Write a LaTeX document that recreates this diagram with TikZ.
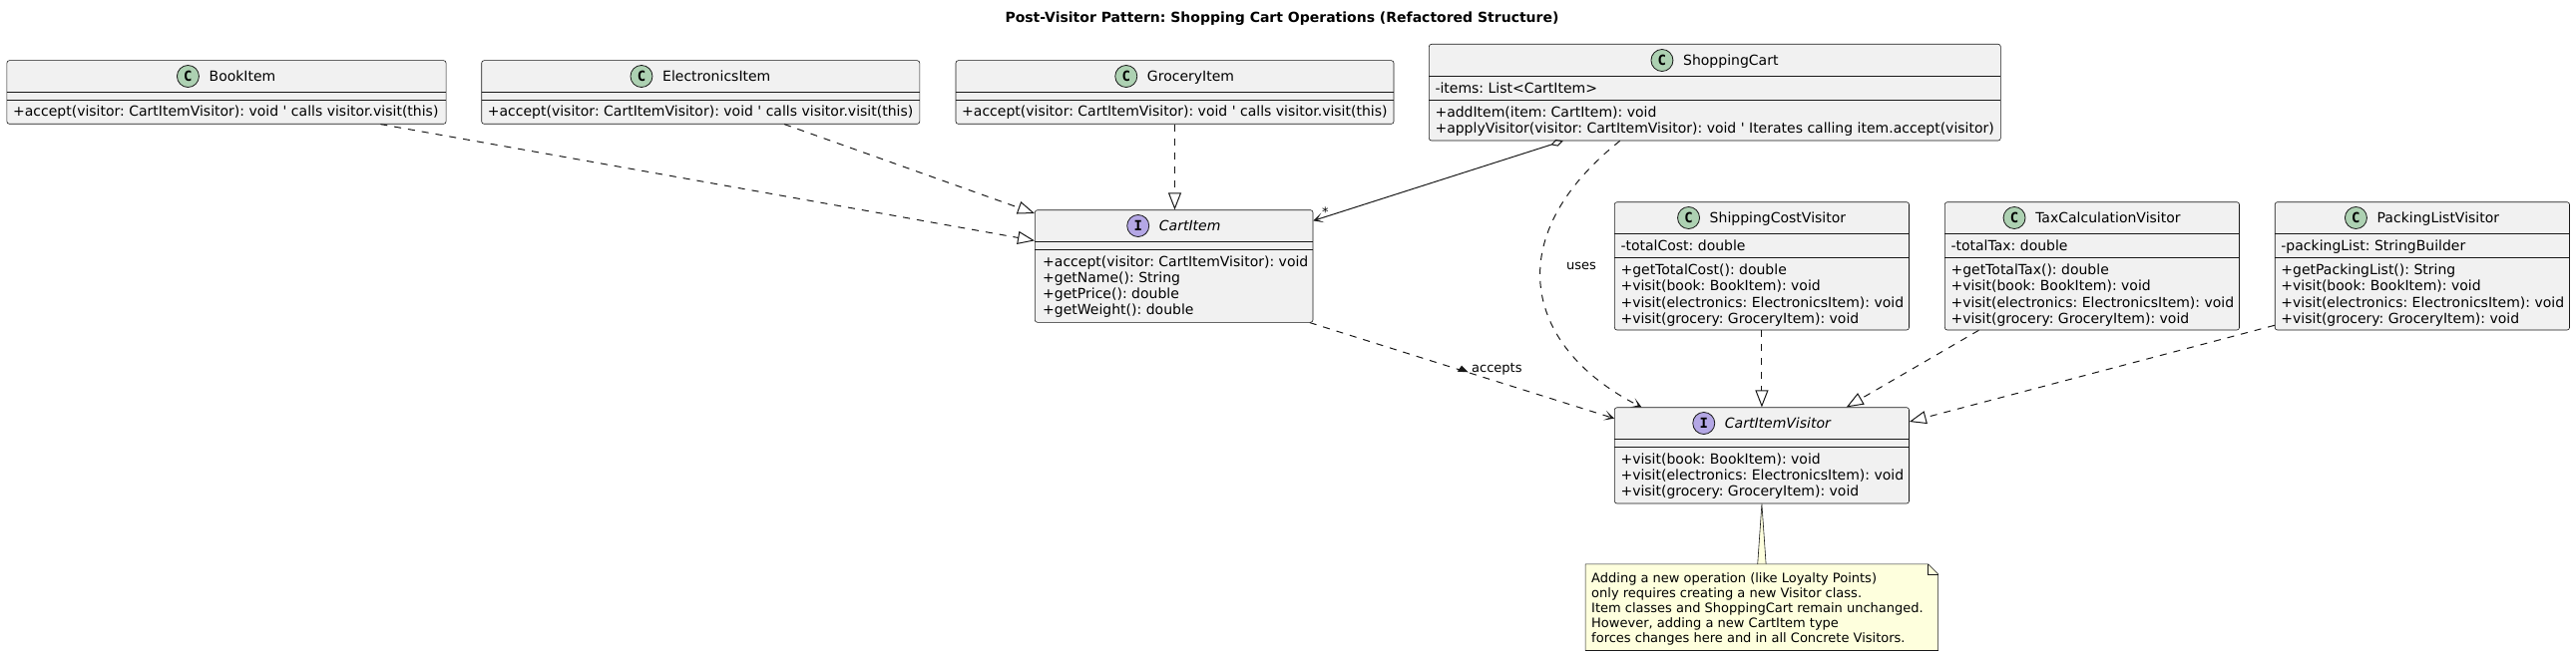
\documentclass[tikz,border=0pt]{standalone}
\usepackage{fontspec}
\setmainfont{DejaVu Sans}
\newfontfamily\iconfont{DejaVu Sans Mono}
\usetikzlibrary{arrows.meta,fit,calc}
\definecolor{boxfill}{HTML}{F1F1F1}
\definecolor{ink}{HTML}{181818}
\definecolor{classicon}{HTML}{ADD1B2}
\definecolor{ifaceicon}{HTML}{B4A7E5}
\definecolor{notefill}{HTML}{FEFFDD}
\newcommand\sq{\textquotesingle}
\newcommand\bodyfont{\fontsize{14}{16.3}\selectfont}
\newcommand\smallfont{\fontsize{13}{15}\selectfont}
\tikzset{
  classbox/.style={draw=ink, fill=boxfill, line width=0.6pt, rounded corners=2.5pt, inner sep=0pt},
  divline/.style={draw=ink, line width=0.6pt},
  classname/.style={font=\bodyfont, inner sep=0pt, text height=10.2pt, text depth=0pt},
  member/.style={font=\bodyfont, inner sep=0pt, anchor=base west},
  notetext/.style={font=\smallfont, inner sep=0pt, anchor=base west},
  iconbase/.style={circle, draw=ink, line width=0.8pt, minimum size=22pt, inner sep=0pt, font=\iconfont\bfseries\fontsize{14}{14}\selectfont},
  iconC/.style={iconbase, fill=classicon},
  iconI/.style={iconbase, fill=ifaceicon},
  conn/.style={draw=ink, line width=1pt},
  dashedconn/.style={conn, dash pattern=on 7pt off 7pt},
  realize/.style={dashedconn, -{Triangle[open, length=17pt, width=13pt]}},
  depend/.style={dashedconn, -{Stealth[length=10pt, width=10pt, inset=6pt]}},
  lbl/.style={font=\smallfont, inner sep=0pt},
  notestyle/.style={draw=ink, fill=notefill, line width=0.6pt},
}
% #1 name, #2 left, #3 top, #4 right, #5 bottom, #6 divider 1, #7 divider 2, #8 icon letter, #9 title
\newcommand\umlclass[9]{%
  \node[classbox, fit={(#2,#3) (#4,#5)}] (#1) {};
  \draw[divline] (#2,#6) -- (#4,#6) (#2,#7) -- (#4,#7);
  \node[classname] (#1-name) at ({(#2+#4)/2+16},{(#3+#6)/2}) {#9};
  \node[icon#8] (#1-icon) at ([xshift=-21pt]#1-name.west) {#8};
}
% #1 x, #2 centre y of first line, #3 list of lines
\newcommand\members[3]{%
  \foreach \mline [count=\mi from 0] in {#3}
    \node[member] at (#1,{#2+5+16.3*\mi}) {\mline};
}
\begin{document}
\frenchspacing
\begin{tikzpicture}[x=1pt,y=-1pt]
\fill[white] (0,0) rectangle (2582,658);
\useasboundingbox (0,0) rectangle (2582,658);

\node[font=\bfseries\fontsize{14}{16}\selectfont, inner sep=0pt] (title) at (1285,18.3)
  {Post-Visitor Pattern: Shopping Cart Operations (Refactored Structure)};

% classes
\umlclass{book}{6.9}{60.7}{447.1}{124.3}{92.3}{100.3}{C}{BookItem}
\members{12.9}{112}{{+accept(visitor: CartItemVisitor): void \sq{} calls visitor.visit(this)}}

\umlclass{elec}{482.7}{60.7}{921.8}{124.3}{92.3}{100.3}{C}{ElectronicsItem}
\members{488.7}{112}{{+accept(visitor: CartItemVisitor): void \sq{} calls visitor.visit(this)}}

\umlclass{groc}{958}{60.7}{1397}{124.3}{92.3}{100.3}{C}{GroceryItem}
\members{964}{112}{{+accept(visitor: CartItemVisitor): void \sq{} calls visitor.visit(this)}}

\umlclass{cart}{1432.3}{44.3}{2005.3}{141}{76.7}{100.7}{C}{ShoppingCart}
\members{1438.3}{88.4}{{-items: List<CartItem>}}
\members{1438.3}{112.4}{{+addItem(item: CartItem): void},{+applyVisitor(visitor: CartItemVisitor): void \sq{} Iterates calling item.accept(visitor)}}

\umlclass{cartitem}{1037.3}{210.7}{1316}{323.3}{242.3}{250.3}{I}{\itshape CartItem}
\members{1045}{262}{{+accept(visitor: CartItemVisitor): void},{+getName(): String},{+getPrice(): double},{+getWeight(): double}}

\umlclass{ship}{1618.3}{202.7}{1913.5}{331}{234.3}{258.7}{C}{ShippingCostVisitor}
\members{1624.3}{246}{{-totalCost: double}}
\members{1624.3}{270.4}{{+getTotalCost(): double},{+visit(book: BookItem): void},{+visit(electronics: ElectronicsItem): void},{+visit(grocery: GroceryItem): void}}

\umlclass{tax}{1949.3}{202.7}{2244.5}{331}{234.3}{258.7}{C}{TaxCalculationVisitor}
\members{1955.3}{246}{{-totalTax: double}}
\members{1955.3}{270.4}{{+getTotalTax(): double},{+visit(book: BookItem): void},{+visit(electronics: ElectronicsItem): void},{+visit(grocery: GroceryItem): void}}

\umlclass{pack}{2280.2}{202.7}{2575.5}{331}{234.3}{258.7}{C}{PackingListVisitor}
\members{2286.2}{246}{{-packingList: StringBuilder}}
\members{2286.2}{270.4}{{+getPackingList(): String},{+visit(book: BookItem): void},{+visit(electronics: ElectronicsItem): void},{+visit(grocery: GroceryItem): void}}

\umlclass{visitor}{1618.3}{408.7}{1913.5}{505}{440.3}{448.3}{I}{\itshape CartItemVisitor}
\members{1624.3}{460}{{+visit(book: BookItem): void},{+visit(electronics: ElectronicsItem): void},{+visit(grocery: GroceryItem): void}}

% note
\node[fit={(1589.3,566) (1942.4,652.3)}, inner sep=0pt] (note) {};
\filldraw[notestyle] ($(visitor.south |- note.north)+(-4.2,0)$) -- (visitor.south) -- ($(visitor.south |- note.north)+(4.2,0)$);
\filldraw[notestyle] (note.north west) -- ([xshift=-10pt]note.north east) -- ([yshift=-10pt]note.north east) -- (note.south east) -- (note.south west) -- cycle;
\draw[notestyle, fill=none] ([xshift=-10pt]note.north east) -- ([xshift=-10pt,yshift=-10pt]note.north east) -- ([yshift=-10pt]note.north east);
\foreach \mline [count=\mi from 0] in {{Adding a new operation (like Loyalty Points)},{only requires creating a new Visitor class.},{Item classes and ShoppingCart remain unchanged.},{However, adding a new CartItem type},{forces changes here and in all Concrete Visitors.}}
  \node[notetext] at (1595,{579.3+4.7+15*\mi}) {\mline};

% connectors
\draw[realize] ($(book.south west)+(374.8,0)$) -- ($(cartitem.north west)+(0,31)$);
\draw[realize] ($(elec.south west)+(303.7,0)$) -- ($(cartitem.north west)+(0,3.6)$);
\draw[realize] (groc.south) -- (groc.south |- cartitem.north);
\draw[conn, {Diamond[open,length=13pt,width=7pt]}-{Stealth[length=10pt,width=10pt,inset=6pt]}]
  ($(cart.south west)+(134.7,0)$) -- ($(cartitem.north east)+(0,11)$);
\node[lbl] (mult) at ($(cartitem.north east)+(12,2)$) {*};
\draw[depend] ($(cart.south west)+(191.7,0)$) .. controls (1500,240) and (1530,350) .. ($(visitor.north west)+(27.4,0)$);
\node[lbl] (useslbl) at (1585,267) {uses};
\draw[depend] ($(cartitem.south east)+(-3.5,0)$) -- ($(visitor.north west)+(0,11.3)$);
\node[lbl, anchor=west] (acclbl) at (1475,370.7) {accepts};
\fill[ink] (1460.7,372.7) -- (1465,366.7) -- (1471.7,373.3) -- cycle;
\draw[realize] (ship.south) -- (visitor.north);
\draw[realize] ($(tax.south west)+(34.4,0)$) -- ($(visitor.north west)+(232.7,0)$);
\draw[realize] ($(pack.south west)+(0,-5)$) -- ($(visitor.north east)+(0,14.6)$);
\end{tikzpicture}
\end{document}
